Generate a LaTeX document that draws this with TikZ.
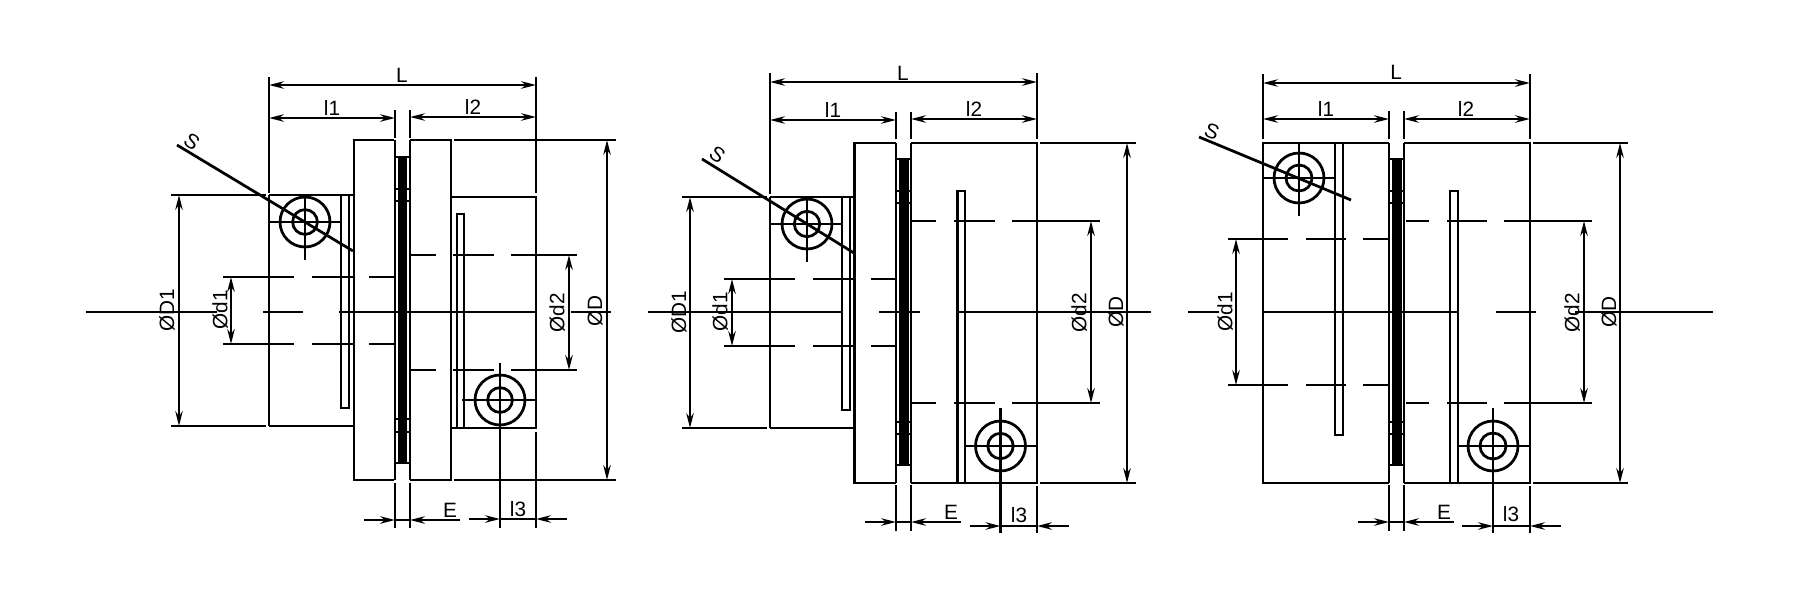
\documentclass[tikz,border=0pt]{standalone}
\usepackage{fontspec}
\setmainfont{Liberation Sans}
\usetikzlibrary{arrows.meta}
\tikzset{
  part/.style={black,line width=0.78pt},
  dim/.style={black,line width=0.75pt,>={Stealth[length=4.2pt,width=2.1pt]}},
  lbl/.style={inner sep=0pt,font=\fontsize{5.9}{6.5}\selectfont},
  vlbl/.style={lbl,rotate=90}
}
\begin{document}
\begin{tikzpicture}[x=0.01cm,y=0.01cm]
  \useasboundingbox (0,0) rectangle (1800,-600);
  % left coupling
  \draw [part] (171,-195) -- (266,-195);
  \draw [part] (269,-195) -- (354,-195);
  \draw [part] (171,-426) -- (266,-426);
  \draw [part] (269,-426) -- (354,-426);
  \draw [part] (269,-195) -- (269,-426);
  \draw [part] (394,-140) -- (354,-140) -- (354,-480) -- (394,-480);
  \draw [part] (410,-140) -- (451,-140) -- (451,-480) -- (410,-480);
  \draw [part] (454,-140) -- (616,-140);
  \draw [part] (454,-480) -- (616,-480);
  \draw [part] (451,-197) -- (536,-197) -- (536,-428) -- (451,-428);
  \draw [part] (395,-140) -- (395,-480);
  \draw [part] (410,-140) -- (410,-480);
  \fill [black] (398,-157) rectangle (407,-463);
  \foreach \ya in {157,189,201,419,432,463}
    \draw [part] (395,-\ya) -- (410,-\ya);
  \draw [part] (341,-195) -- (341,-408) -- (349,-408) -- (349,-195);
  \draw [part] (457,-428) -- (457,-214) -- (464,-214) -- (464,-428);
  \foreach \ya in {277,344}{
    \draw [part] (223,-\ya) -- (294,-\ya);
    \draw [part] (312,-\ya) -- (353,-\ya);
    \draw [part] (369,-\ya) -- (394,-\ya);
  }
  \foreach \ya in {255,370}{
    \draw [part] (411,-\ya) -- (436,-\ya);
    \draw [part] (453,-\ya) -- (494,-\ya);
    \draw [part] (511,-\ya) -- (577,-\ya);
  }
  \draw [part] (86,-312) -- (217,-312);
  \draw [part] (263,-312) -- (303,-312);
  \draw [part] (339,-312) -- (535,-312);
  \draw [part] (571,-312) -- (611,-312);
  \draw [part] (305,-222) circle (25);
  \draw [part] (305,-222) circle (12.4);
  \draw [part] (269,-222) -- (341,-222);
  \draw [part] (305,-195) -- (305,-260);
  \draw [part] (500,-400) circle (25);
  \draw [part] (500,-400) circle (12.4);
  \draw [part] (462,-400) -- (536,-400);
  \draw [part] (500,-363) -- (500,-528);
  \draw [part] (177,-145) -- (353,-251);
  \node [lbl,rotate=-35] (sa) at (192,-142) {S};
  \draw [part] (269,-77) -- (269,-193);
  \draw [part] (536,-77) -- (536,-193);
  \draw [part] (536,-432) -- (536,-528);
  \draw [part] (395,-110) -- (395,-138);
  \draw [part] (410,-110) -- (410,-138);
  \draw [part] (395,-483) -- (395,-528);
  \draw [part] (410,-483) -- (410,-528);
  \draw [dim,<->] (269,-85) -- (536,-85);
  \draw [dim,<->] (269,-118) -- (395,-118);
  \draw [dim,<->] (410,-117) -- (536,-117);
  \draw [dim,<->] (179,-195) -- (179,-426);
  \draw [dim,<->] (231,-277) -- (231,-344);
  \draw [dim,<->] (569,-255) -- (569,-370);
  \draw [dim,<->] (607,-140) -- (607,-480);
  \draw [dim,->] (364,-520) -- (395,-520);
  \draw [dim] (395,-520) -- (410,-520);
  \draw [dim,->] (460,-520) -- (410,-520);
  \draw [dim,->] (469,-519) -- (500,-519);
  \draw [dim] (500,-519) -- (536,-519);
  \draw [dim,->] (567,-519) -- (536,-519);
  \node [lbl] (La) at (402,-75) {L};
  \node [lbl] (l1a) at (332,-108) {l1};
  \node [lbl] (l2a) at (473,-107) {l2};
  \node [lbl] (Ea) at (450,-510) {E};
  \node [lbl] (l3a) at (518,-509) {l3};
  \node [vlbl] (D1a) at (167,-310) {ØD1};
  \node [vlbl] (d1a) at (220,-310) {Ød1};
  \node [vlbl] (d2a) at (557,-313) {Ød2};
  \node [vlbl] (Da) at (595,-311) {ØD};
  % middle coupling
  \draw [part] (682,-197) -- (767,-197);
  \draw [part] (770,-197) -- (854,-197);
  \draw [part] (682,-428) -- (767,-428);
  \draw [part] (770,-428) -- (854,-428);
  \draw [part] (770,-197) -- (770,-428);
  \draw [part] (896,-143) -- (854.5,-143) -- (854.5,-483) -- (896,-483);
  \draw [part] (911,-143) -- (1037,-143) -- (1037,-483) -- (911,-483);
  \draw [part] (1040,-143) -- (1136,-143);
  \draw [part] (1040,-483) -- (1136,-483);
  \draw [part] (896,-143) -- (896,-483);
  \draw [part] (911,-143) -- (911,-483);
  \fill [black] (899,-159) rectangle (908.5,-465);
  \foreach \ya in {159,191,203,422,434,465}
    \draw [part] (896,-\ya) -- (911,-\ya);
  \draw [part] (842,-197) -- (842,-410) -- (850,-410) -- (850,-197);
  \draw [part] (957.5,-483) -- (957.5,-191) -- (965,-191) -- (965,-483);
  \foreach \ya in {279,346}{
    \draw [part] (724,-\ya) -- (795,-\ya);
    \draw [part] (813,-\ya) -- (853,-\ya);
    \draw [part] (871,-\ya) -- (895,-\ya);
  }
  \foreach \ya in {221,403}{
    \draw [part] (912,-\ya) -- (936,-\ya);
    \draw [part] (954,-\ya) -- (995,-\ya);
    \draw [part] (1012,-\ya) -- (1100,-\ya);
  }
  \draw [part] (648,-312) -- (841,-312);
  \draw [part] (879,-312) -- (920,-312);
  \draw [part] (957,-312) -- (1151,-312);
  \draw [part] (807,-224) circle (25);
  \draw [part] (807,-224) circle (12.7);
  \draw [part] (770,-224) -- (842,-224);
  \draw [part] (807,-197) -- (807,-262);
  \draw [part] (1000.5,-446) circle (25);
  \draw [part] (1000.5,-446) circle (12.7);
  \draw [part] (965,-446) -- (1037,-446);
  \draw [part] (1000.5,-408) -- (1000.5,-533);
  \draw [part] (702,-159) -- (854,-253);
  \node [lbl,rotate=-35] (sb) at (717.5,-155) {S};
  \draw [part] (770,-73) -- (770,-194);
  \draw [part] (1037,-73) -- (1037,-139);
  \draw [part] (1037,-486) -- (1037,-533);
  \draw [part] (896,-112) -- (896,-139);
  \draw [part] (911,-112) -- (911,-139);
  \draw [part] (896,-485) -- (896,-531);
  \draw [part] (911,-485) -- (911,-531);
  \draw [dim,<->] (770,-82) -- (1037,-82);
  \draw [dim,<->] (770,-120) -- (896,-120);
  \draw [dim,<->] (911,-119) -- (1037,-119);
  \draw [dim,<->] (690,-197) -- (690,-428);
  \draw [dim,<->] (732,-279) -- (732,-346);
  \draw [dim,<->] (1091,-221) -- (1091,-403);
  \draw [dim,<->] (1127,-143) -- (1127,-483);
  \draw [dim,->] (864.5,-522) -- (896,-522);
  \draw [dim] (896,-522) -- (911,-522);
  \draw [dim,->] (961,-522) -- (911,-522);
  \draw [dim,->] (969.5,-526) -- (1000.5,-526);
  \draw [dim] (1000.5,-526) -- (1037,-526);
  \draw [dim,->] (1069,-526) -- (1037,-526);
  \node [lbl] (Lb) at (903,-73) {L};
  \node [lbl] (l1b) at (833,-110) {l1};
  \node [lbl] (l2b) at (974,-109) {l2};
  \node [lbl] (Eb) at (951,-512) {E};
  \node [lbl] (l3b) at (1019,-515) {l3};
  \node [vlbl] (D1b) at (679,-312) {ØD1};
  \node [vlbl] (d1b) at (720,-312) {Ød1};
  \node [vlbl] (d2b) at (1079,-313) {Ød2};
  \node [vlbl] (Db) at (1116,-312) {ØD};
  % right coupling
  \draw [part] (1389,-143) -- (1263,-143) -- (1263,-483) -- (1389,-483);
  \draw [part] (1404,-143) -- (1530,-143) -- (1530,-483) -- (1404,-483);
  \draw [part] (1533,-143) -- (1628,-143);
  \draw [part] (1533,-483) -- (1628,-483);
  \draw [part] (1389,-143) -- (1389,-483);
  \draw [part] (1404,-143) -- (1404,-483);
  \fill [black] (1392,-159) rectangle (1401.5,-465);
  \foreach \ya in {159,191,203,422,434,465}
    \draw [part] (1389,-\ya) -- (1404,-\ya);
  \draw [part] (1335,-143) -- (1335,-435) -- (1343,-435) -- (1343,-143);
  \draw [part] (1450,-483) -- (1450,-191) -- (1458,-191) -- (1458,-483);
  \foreach \ya in {239,385}{
    \draw [part] (1228,-\ya) -- (1288,-\ya);
    \draw [part] (1306,-\ya) -- (1346,-\ya);
    \draw [part] (1363,-\ya) -- (1388,-\ya);
  }
  \foreach \ya in {221,403}{
    \draw [part] (1406,-\ya) -- (1429,-\ya);
    \draw [part] (1447,-\ya) -- (1487,-\ya);
    \draw [part] (1504,-\ya) -- (1592,-\ya);
  }
  \draw [part] (1188,-312) -- (1219,-312);
  \draw [part] (1264,-312) -- (1459,-312);
  \draw [part] (1496,-312) -- (1536,-312);
  \draw [part] (1575,-312) -- (1713,-312);
  \draw [part] (1299,-178) circle (25);
  \draw [part] (1299,-178) circle (13);
  \draw [part] (1263,-178) -- (1335,-178);
  \draw [part] (1299,-143) -- (1299,-216);
  \draw [part] (1493,-446) circle (25);
  \draw [part] (1493,-446) circle (13);
  \draw [part] (1458,-446) -- (1530,-446);
  \draw [part] (1493,-408) -- (1493,-533);
  \draw [part] (1199,-137) -- (1351,-200);
  \node [lbl,rotate=-22] (sc) at (1212,-131) {S};
  \draw [part] (1263,-74) -- (1263,-139);
  \draw [part] (1530,-74) -- (1530,-139);
  \draw [part] (1530,-486) -- (1530,-533);
  \draw [part] (1389,-111) -- (1389,-139);
  \draw [part] (1404,-111) -- (1404,-139);
  \draw [part] (1389,-485) -- (1389,-531);
  \draw [part] (1404,-485) -- (1404,-531);
  \draw [dim,<->] (1263,-83) -- (1530,-83);
  \draw [dim,<->] (1263,-119) -- (1389,-119);
  \draw [dim,<->] (1404,-119) -- (1530,-119);
  \draw [dim,<->] (1236,-239) -- (1236,-385);
  \draw [dim,<->] (1584,-221) -- (1584,-403);
  \draw [dim,<->] (1620,-143) -- (1620,-483);
  \draw [dim,->] (1357.5,-522) -- (1389,-522);
  \draw [dim] (1389,-522) -- (1404,-522);
  \draw [dim,->] (1454,-522) -- (1404,-522);
  \draw [dim,->] (1462,-526) -- (1493,-526);
  \draw [dim] (1493,-526) -- (1530,-526);
  \draw [dim,->] (1561,-526) -- (1530,-526);
  \node [lbl] (Lc) at (1396,-72) {L};
  \node [lbl] (l1c) at (1326,-109) {l1};
  \node [lbl] (l2c) at (1466,-109) {l2};
  \node [lbl] (Ec) at (1444,-512) {E};
  \node [lbl] (l3c) at (1511,-514) {l3};
  \node [vlbl] (d1c) at (1225,-312) {Ød1};
  \node [vlbl] (d2c) at (1572,-313) {Ød2};
  \node [vlbl] (Dc) at (1609,-312) {ØD};
\end{tikzpicture}
\end{document}
